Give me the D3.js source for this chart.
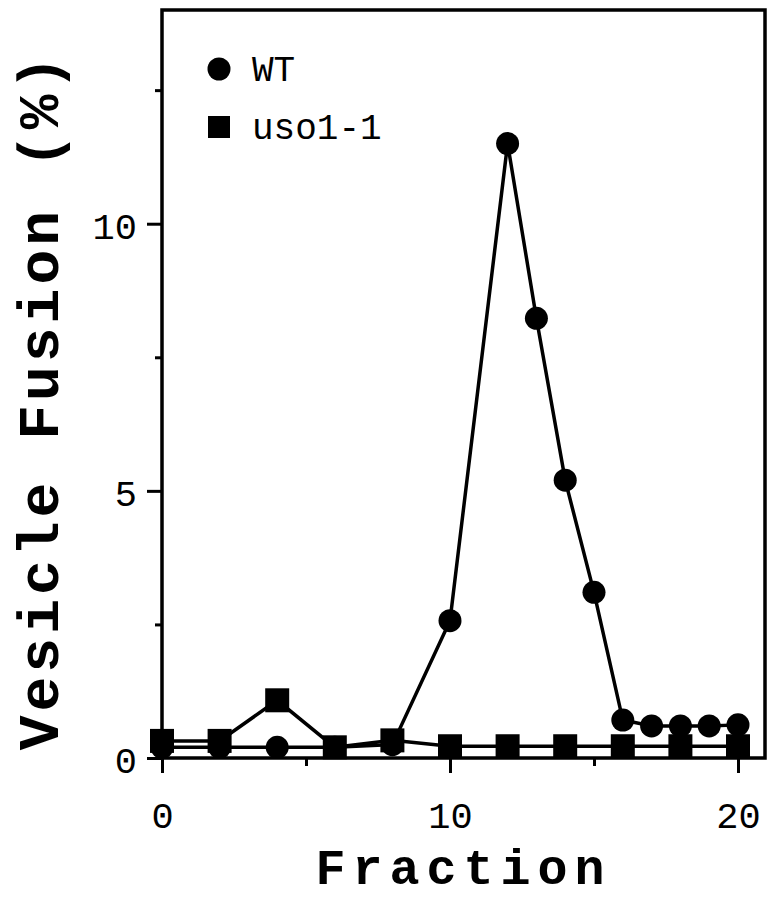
<!DOCTYPE html>
<html>
<head>
<meta charset="utf-8">
<script src="https://cdn.jsdelivr.net/npm/d3@7"></script>
<style>
  body { margin: 0; background: #fff; }
  svg text { fill: #000; }
</style>
</head>
<body>
<div id="chart"></div>
<script>
// Données
const wtFractions = [0, 2, 4, 6, 8, 10, 12, 13, 14, 15, 16, 17, 18, 19, 20];
const wtValues = [0.2, 0.2, 0.2, 0.2, 0.25, 2.57, 11.5, 8.23, 5.2, 3.1, 0.71, 0.6, 0.6, 0.6, 0.62];
const usoFractions = [0, 2, 4, 6, 8, 10, 12, 14, 16, 18, 20];
const usoValues = [0.32, 0.32, 1.08, 0.2, 0.33, 0.22, 0.22, 0.22, 0.22, 0.22, 0.22];
const xTicks = [0, 10, 20];
const xMinorTicks = [5, 15];
const yTicks = [0, 5, 10];
const yMinorTicks = [2.5, 7.5, 12.5];
const legendLabels = ["WT", "uso1-1"];

(function() {
    const W = 773, H = 900;
    const left = 162, right = 765, top = 10, bottom = 758;

    const svg = d3.select("#chart").append("svg")
        .attr("width", W)
        .attr("height", H);

    // Echelles
    const x = d3.scaleLinear().domain([0, 20]).range([left, 738]);
    const y = d3.scaleLinear().domain([0, 14]).range([bottom, top]);

    // Cadre
    svg.append("rect")
        .attr("x", left).attr("y", top)
        .attr("width", right - left).attr("height", bottom - top)
        .attr("fill", "none").attr("stroke", "#000").attr("stroke-width", 3.5);

    // Axe X
    svg.append("g").attr("transform", `translate(0,${bottom})`)
        .call(d3.axisBottom(x).tickValues(xTicks).tickSize(15).tickPadding(29).tickFormat(d3.format("d")));
    svg.append("g").attr("transform", `translate(0,${bottom})`)
        .call(d3.axisBottom(x).tickValues(xMinorTicks).tickSize(8).tickFormat(""));

    // Axe Y
    const yAxis = svg.append("g").attr("transform", `translate(${left},0)`)
        .call(d3.axisLeft(y).tickValues(yTicks).tickSize(15).tickPadding(10).tickFormat(d3.format("d")));
    svg.append("g").attr("transform", `translate(${left},0)`)
        .call(d3.axisLeft(y).tickValues(yMinorTicks).tickSize(7).tickFormat(""));

    svg.selectAll(".domain").remove();
    svg.selectAll(".tick line").attr("stroke", "#000").attr("stroke-width", 3);
    svg.selectAll(".tick text")
        .attr("font-family", "'Liberation Mono', monospace")
        .attr("font-size", 37)
        .attr("fill", "#000");
    yAxis.selectAll(".tick text").attr("dy", "0.4em");

    // Titres
    svg.append("text")
        .attr("x", (left + right) / 2)
        .attr("y", 884)
        .attr("text-anchor", "middle")
        .attr("font-family", "'Liberation Mono', monospace")
        .attr("font-weight", "bold")
        .attr("font-size", 50)
        .attr("letter-spacing", 7)
        .text("Fraction");

    svg.append("text")
        .attr("transform", "translate(58,401) rotate(-90)")
        .attr("text-anchor", "middle")
        .attr("font-family", "'Liberation Mono', monospace")
        .attr("font-weight", "bold")
        .attr("font-size", 58)
        .attr("letter-spacing", 4)
        .text("Vesicle Fusion (%)");

    // Lignes
    const wt = wtFractions.map((f, i) => ({ f: f, v: wtValues[i] }));
    const uso = usoFractions.map((f, i) => ({ f: f, v: usoValues[i] }));
    const line = d3.line().x(d => x(d.f)).y(d => y(d.v));

    svg.append("path").datum(uso)
        .attr("d", line).attr("fill", "none")
        .attr("stroke", "#000").attr("stroke-width", 3.5);
    svg.append("path").datum(wt)
        .attr("d", line).attr("fill", "none")
        .attr("stroke", "#000").attr("stroke-width", 3.5);

    // Points
    svg.selectAll(".sq").data(uso).enter().append("rect")
        .attr("class", "sq")
        .attr("x", d => x(d.f) - 12).attr("y", d => y(d.v) - 12)
        .attr("width", 24).attr("height", 24)
        .attr("fill", "#000");
    svg.selectAll(".dot").data(wt).enter().append("circle")
        .attr("class", "dot")
        .attr("cx", d => x(d.f)).attr("cy", d => y(d.v))
        .attr("r", 11.5)
        .attr("fill", "#000");

    // Légende
    const legend = svg.selectAll(".legend").data(legendLabels).enter().append("g")
        .attr("class", "legend")
        .attr("transform", (d, i) => `translate(219,${69 + i * 58})`);
    legend.each(function(d, i) {
        const g = d3.select(this);
        if (i === 0) g.append("circle").attr("r", 11.5).attr("fill", "#000");
        else g.append("rect").attr("x", -11).attr("y", -11).attr("width", 22).attr("height", 22).attr("fill", "#000");
    });
    legend.append("text")
        .attr("x", 33).attr("y", 12)
        .attr("font-family", "'Liberation Mono', monospace")
        .attr("font-size", 36)
        .text(d => d);
})();
</script>
</body>
</html>
